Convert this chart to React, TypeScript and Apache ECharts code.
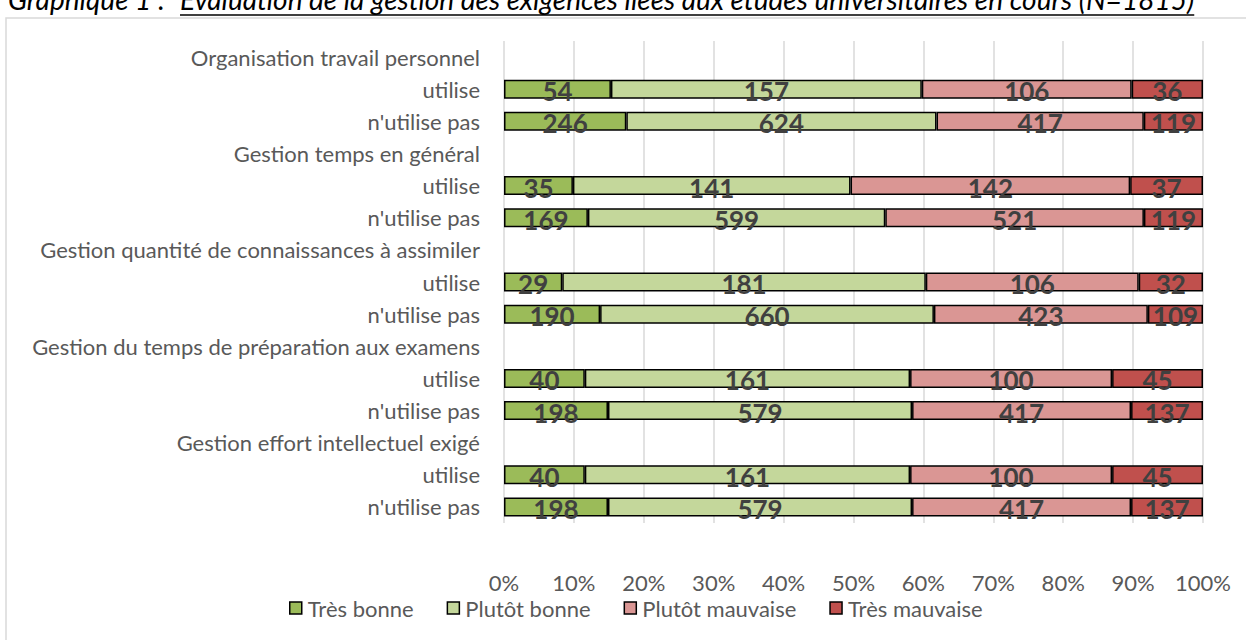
import React, { useEffect, useRef } from "react";
import * as echarts from "echarts";

const categories = [
  "Organisation travail personnel",
  "utilise",
  "n'utilise pas",
  "Gestion temps en général",
  "utilise",
  "n'utilise pas",
  "Gestion quantité de connaissances à assimiler",
  "utilise",
  "n'utilise pas",
  "Gestion du temps de préparation aux examens",
  "utilise",
  "n'utilise pas",
  "Gestion effort intellectuel exigé",
  "utilise",
  "n'utilise pas",
];

const seriesNames = ["Très bonne", "Plutôt bonne", "Plutôt mauvaise", "Très mauvaise"];
const colors = ["#9BBB59", "#C4D79B", "#DA9694", "#C0504D"];

// counts per row (null = group header row)
const tresBonne = [null, 54, 246, null, 35, 169, null, 29, 190, null, 40, 198, null, 40, 198];
const plutotBonne = [null, 157, 624, null, 141, 599, null, 181, 660, null, 161, 579, null, 161, 579];
const plutotMauvaise = [null, 106, 417, null, 142, 521, null, 106, 423, null, 100, 417, null, 100, 417];
const tresMauvaise = [null, 36, 119, null, 37, 119, null, 32, 109, null, 45, 137, null, 45, 137];

const xTicks = ["0%", "10%", "20%", "30%", "40%", "50%", "60%", "70%", "80%", "90%", "100%"];

const titlePrefix = "Graphique 1 : ";
const titleMain = "Évaluation de la gestion des exigences liées aux études universitaires en cours (N=1815)";

function measure(text: string, font: string): number {
  try {
    const c = document.createElement("canvas").getContext("2d");
    if (!c) return text.length * 12;
    c.font = font;
    return c.measureText(text).width;
  } catch (e) {
    return text.length * 12;
  }
}

export default function App() {
  const ref = useRef<HTMLDivElement>(null);
  useEffect(() => {
    if (!ref.current) return;
    const chart = echarts.init(ref.current, null, { renderer: "svg" });
    const all = [tresBonne, plutotBonne, plutotMauvaise, tresMauvaise];
    const totals = categories.map((_, i) =>
      all.reduce((s, arr) => s + (arr[i] ?? 0), 0)
    );
    const font = "Lato";
    const titleFont = "italic 28px Lato";
    const mainX = 180;
    const mainW = measure(titleMain, titleFont);
    const series = all.map((arr, k) => ({
      name: seriesNames[k],
      type: "bar",
      stack: "total",
      barWidth: 19,
      itemStyle: { color: colors[k], borderColor: "#000", borderWidth: 1.5 },
      label: {
        show: true,
        position: "inside",
        color: "#404040",
        fontWeight: "bold",
        fontSize: 26,
        fontFamily: font,
        offset: [0, 2],
        formatter: (p: any) => (p.data && p.data.raw != null ? String(p.data.raw) : ""),
      },
      data: arr.map((v, i) =>
        v == null ? { value: null, raw: null } : { value: (v / totals[i]) * 100, raw: v }
      ),
    }));

    chart.setOption({
      animation: false,
      textStyle: { fontFamily: font },
      grid: { left: 504, top: 41, width: 699, height: 482 },
      xAxis: {
        type: "value",
        min: 0,
        max: 100,
        interval: 10,
        axisLine: { show: false },
        axisTick: { show: false },
        splitLine: { lineStyle: { color: "#D9D9D9", width: 1.5 } },
        axisLabel: {
          color: "#595959",
          fontSize: 22,
          fontFamily: font,
          margin: 48,
          formatter: (v: number) => xTicks[Math.round(v / 10)],
        },
      },
      yAxis: {
        type: "category",
        inverse: true,
        data: categories,
        axisLine: { show: false },
        axisTick: { show: false },
        axisLabel: { color: "#595959", fontSize: 22, fontFamily: font, margin: 24 },
      },
      legend: {
        left: 284,
        top: 592,
        itemWidth: 12,
        itemHeight: 12,
        itemGap: 33,
        icon: "rect",
        textStyle: { color: "#595959", fontSize: 22, fontFamily: font, padding: [0, 0, 0, 1] },
        itemStyle: { borderColor: "#000", borderWidth: 1.5 },
        data: seriesNames,
      },
      graphic: [
        {
          type: "rect",
          shape: { x: 6, y: 18, width: 1260, height: 640 },
          style: { fill: "none", stroke: "#D9D9D9", lineWidth: 1.5 },
          silent: true,
        },
        {
          type: "text",
          x: 8,
          y: -15,
          style: {
            text: titlePrefix,
            font: titleFont,
            fill: "#000",
          },
        },
        {
          type: "text",
          x: mainX,
          y: -15,
          style: {
            text: titleMain,
            font: titleFont,
            fill: "#000",
          },
        },
        {
          type: "line",
          shape: { x1: mainX, y1: 15, x2: mainX + mainW, y2: 15 },
          style: { stroke: "#000", lineWidth: 1.5 },
        },
      ],
      series,
    });
    return () => chart.dispose();
  }, []);
  return (
    <div
      ref={ref}
      style={{ position: "fixed", left: 0, top: 0, width: 1246, height: 640, background: "#fff" }}
    />
  );
}
